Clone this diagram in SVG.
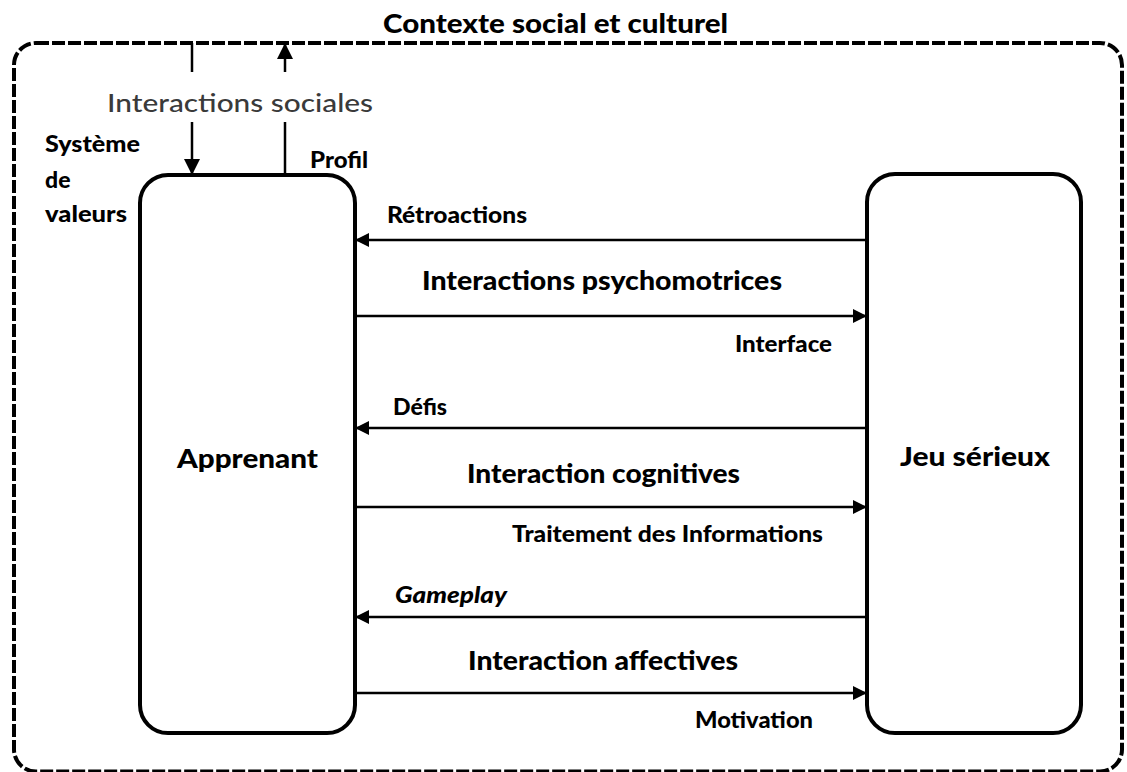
<svg xmlns="http://www.w3.org/2000/svg" width="1127" height="772" viewBox="0 0 1127 772">
  <style>
    .lbl { font-family: Lato, "Liberation Sans", Arial, sans-serif; font-weight: 900; fill: #000; }
    .big { font-size: 27px; }
    .mid { font-size: 23px; }
    .social { font-family: Lato, "Liberation Sans", Arial, sans-serif; font-weight: 500; font-size: 25px; fill: #3a3a3a; }
    .box { fill: #fff; stroke: #000; stroke-width: 4; }
    .ctx { fill: none; stroke: #000; stroke-width: 4; stroke-dasharray: 13 3; }
    .wire { stroke: #000; stroke-width: 2.5; fill: none; }
  </style>
  <defs>
    <marker id="head" viewBox="0 0 14 14" refX="13" refY="7" markerWidth="14" markerHeight="14" markerUnits="userSpaceOnUse" orient="auto">
      <path d="M0,0 L14,7 L0,14 Z" fill="#000"/>
    </marker>
    <marker id="headV" viewBox="0 0 16 16" refX="15" refY="8" markerWidth="16" markerHeight="16" markerUnits="userSpaceOnUse" orient="auto">
      <path d="M0,0 L16,8 L0,16 Z" fill="#000"/>
    </marker>
  </defs>

  <rect width="1127" height="772" fill="#fff"/>

  <!-- social and cultural context frame -->
  <g id="contexte">
    <rect class="ctx" x="14" y="43" width="1108" height="728.5" rx="22" ry="22"/>
    <text class="lbl big" x="383" y="33" textLength="345" lengthAdjust="spacingAndGlyphs">Contexte social et culturel</text>
  </g>

  <!-- learner -->
  <g id="apprenant">
    <rect class="box" x="140" y="175" width="215" height="558" rx="28" ry="28"/>
    <text class="lbl big" x="177" y="468" textLength="141" lengthAdjust="spacingAndGlyphs">Apprenant</text>
  </g>

  <!-- serious game -->
  <g id="jeu-serieux">
    <rect class="box" x="867" y="174" width="214" height="559" rx="28" ry="28"/>
    <text class="lbl big" x="900" y="466" textLength="150" lengthAdjust="spacingAndGlyphs">Jeu sérieux</text>
  </g>

  <!-- connectors -->
  <g id="connecteurs">
    <!-- social interactions with the context -->
    <line class="wire" x1="192" y1="43" x2="192" y2="72"/>
    <line class="wire" x1="192" y1="122" x2="192" y2="174" marker-end="url(#headV)"/>
    <line class="wire" x1="285" y1="72" x2="285" y2="44" marker-end="url(#headV)"/>
    <line class="wire" x1="285" y1="122" x2="285" y2="175"/>

    <!-- learner / game exchanges -->
    <line class="wire" x1="867" y1="240" x2="356" y2="240" marker-end="url(#head)"/>
    <line class="wire" x1="355" y1="316" x2="866" y2="316" marker-end="url(#head)"/>
    <line class="wire" x1="867" y1="428" x2="356" y2="428" marker-end="url(#head)"/>
    <line class="wire" x1="355" y1="507" x2="866" y2="507" marker-end="url(#head)"/>
    <line class="wire" x1="867" y1="617" x2="356" y2="617" marker-end="url(#head)"/>
    <line class="wire" x1="355" y1="693" x2="866" y2="693" marker-end="url(#head)"/>
  </g>

  <!-- labels -->
  <g id="etiquettes">
    <text class="social" x="107" y="112" textLength="266" lengthAdjust="spacingAndGlyphs">Interactions sociales</text>
    <text class="lbl mid" x="45" y="152" textLength="95" lengthAdjust="spacingAndGlyphs">Système</text>
    <text class="lbl mid" x="45" y="188">de</text>
    <text class="lbl mid" x="45" y="222" textLength="82" lengthAdjust="spacingAndGlyphs">valeurs</text>
    <text class="lbl mid" x="310" y="168" textLength="58" lengthAdjust="spacingAndGlyphs">Profil</text>

    <text class="lbl mid" x="387" y="223" textLength="140" lengthAdjust="spacingAndGlyphs">Rétroactions</text>
    <text class="lbl big" x="422" y="290" textLength="360" lengthAdjust="spacingAndGlyphs">Interactions psychomotrices</text>
    <text class="lbl mid" x="735" y="352" textLength="97" lengthAdjust="spacingAndGlyphs">Interface</text>

    <text class="lbl mid" x="393" y="415" textLength="54" lengthAdjust="spacingAndGlyphs">Défis</text>
    <text class="lbl big" x="467" y="483" textLength="273" lengthAdjust="spacingAndGlyphs">Interaction cognitives</text>
    <text class="lbl mid" x="512" y="542" textLength="311" lengthAdjust="spacingAndGlyphs">Traitement des Informations</text>

    <text class="lbl mid" x="395" y="603" font-style="italic" textLength="112" lengthAdjust="spacingAndGlyphs">Gameplay</text>
    <text class="lbl big" x="468" y="670" textLength="270" lengthAdjust="spacingAndGlyphs">Interaction affectives</text>
    <text class="lbl mid" x="695" y="728" textLength="118" lengthAdjust="spacingAndGlyphs">Motivation</text>
  </g>
</svg>
